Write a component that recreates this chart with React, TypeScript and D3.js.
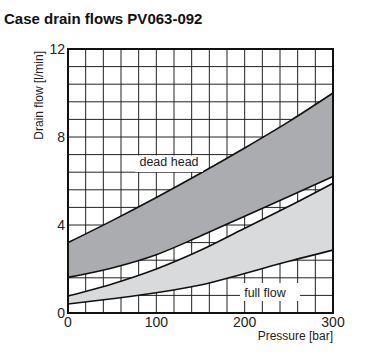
import React from "react";
import * as d3 from "d3";

const pressures = [0, 50, 100, 150, 200, 250, 300];
const deadHeadUpper = [3.2, 4.2, 5.25, 6.35, 7.5, 8.7, 10.0];
const deadHeadLower = [1.62, 2.05, 2.65, 3.5, 4.4, 5.3, 6.2];
const fullFlowUpper = [0.77, 1.32, 2.0, 2.85, 3.85, 4.85, 5.9];
const fullFlowLower = [0.41, 0.65, 0.92, 1.27, 1.8, 2.35, 2.86];
const xTicks = [0, 100, 200, 300];
const yTicks = [0, 4, 8, 12];

const W = 370, H = 360;
const L = 68, R = 333, T = 49, B = 313;
const FONT = "'Liberation Sans', Arial, Helvetica, sans-serif";

export default function App() {
  const x = d3.scaleLinear().domain([0, 300]).range([L, R]);
  const y = d3.scaleLinear().domain([0, 12]).range([B, T]);
  const gridX = d3.range(0, 300.001, 20);
  const gridY = d3.range(0, 12.001, 0.8);

  const band = (up: number[], lo: number[]) =>
    d3.area<number>()
      .x((_, i) => x(pressures[i]))
      .y0((_, i) => y(lo[i]))
      .y1((_, i) => y(up[i]))
      .curve(d3.curveMonotoneX)(pressures) || "";
  const line = (vals: number[]) =>
    d3.line<number>()
      .x((_, i) => x(pressures[i]))
      .y((v) => y(v))
      .curve(d3.curveMonotoneX)(vals) || "";

  return (
    <svg width={W} height={H} style={{ position: "absolute", left: 0, top: 0, background: "#fff" }}>
      <rect x={0} y={0} width={W} height={H} fill="#fff" />
      <text x={4} y={24} fontFamily={FONT} fontWeight="bold" fontSize={15} fill="#111">
        Case drain flows PV063-092
      </text>
      {gridX.map((g) => (
        <line key={"gx" + g} x1={x(g)} x2={x(g)} y1={T} y2={B} stroke="#222" strokeWidth={1} />
      ))}
      {gridY.map((g, i) => (
        <line key={"gy" + i} x1={L} x2={R} y1={y(g)} y2={y(g)} stroke="#222" strokeWidth={1} />
      ))}
      <path d={band(deadHeadUpper, deadHeadLower)} fill="#aaacaf" />
      <path d={band(fullFlowUpper, fullFlowLower)} fill="#d9dadc" />
      {[deadHeadUpper, deadHeadLower, fullFlowUpper, fullFlowLower].map((s, i) => (
        <path key={"l" + i} d={line(s)} fill="none" stroke="#111" strokeWidth={1.6} />
      ))}
      <rect x={L} y={T} width={R - L} height={B - T} fill="none" stroke="#111" strokeWidth={2} />
      {yTicks.map((t) => (
        <text key={"yt" + t} x={L - 3} y={y(t) + 5} textAnchor="end" fontFamily={FONT} fontSize={14} fill="#222">
          {t}
        </text>
      ))}
      {xTicks.map((t) => (
        <text key={"xt" + t} x={x(t)} y={B + 14} textAnchor="middle" fontFamily={FONT} fontSize={14} fill="#222">
          {t}
        </text>
      ))}
      <text x={R} y={340} textAnchor="end" fontFamily={FONT} fontSize={12} fill="#222">
        Pressure [bar]
      </text>
      <text transform={`translate(43,51) rotate(-90)`} textAnchor="end" fontFamily={FONT} fontSize={12} fill="#222">
        Drain flow [l/min]
      </text>
      <rect x={135} y={155.5} width={68} height={16.5} fill="#fff" />
      <text x={169} y={166} textAnchor="middle" fontFamily={FONT} fontSize={12.5} fill="#222">
        dead head
      </text>
      <rect x={240} y={283} width={60} height={18} fill="#fff" />
      <text x={265} y={297} textAnchor="middle" fontFamily={FONT} fontSize={12.5} fill="#222">
        full flow
      </text>
    </svg>
  );
}
